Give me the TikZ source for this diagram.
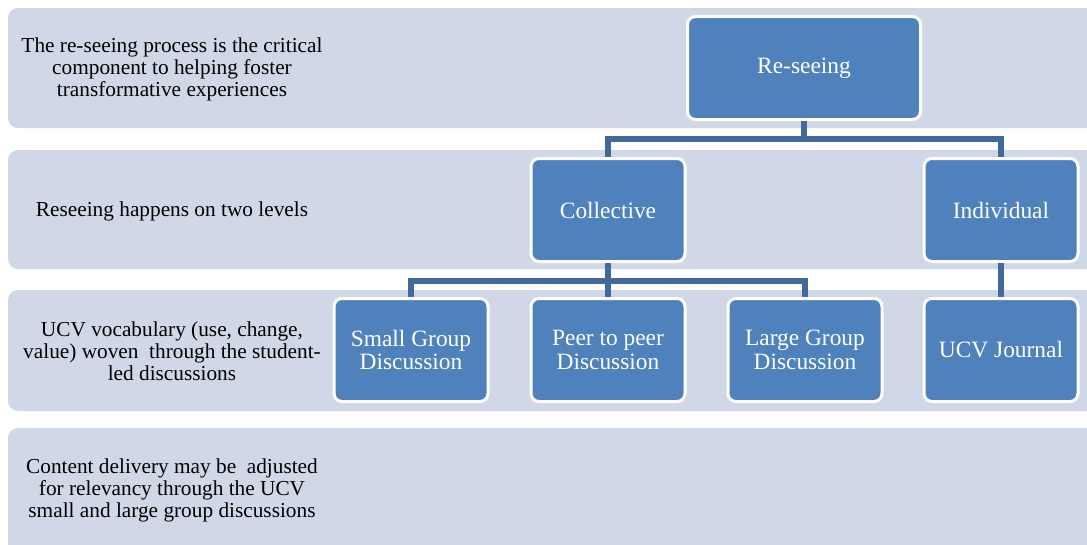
\documentclass[tikz,border=0pt]{standalone}
\usepackage{fontspec}
\setmainfont{Liberation Serif}
\definecolor{bandfill}{HTML}{D0D8E8}
\definecolor{boxfill}{HTML}{4F81BD}
\definecolor{connblue}{HTML}{41699D}
\begin{document}
\begin{tikzpicture}[x=1pt,y=-1pt,
  bandshape/.style={fill=bandfill, rounded corners=10pt},
  bandtext/.style={align=center, font=\fontsize{21.3}{22}\selectfont, text=black, inner sep=0pt},
  boxnode/.style={fill=boxfill, draw=white, line width=3pt, rounded corners=8pt, text=white,
    align=center, font=\fontsize{23.4}{23.5}\selectfont, minimum height=103pt, inner sep=0pt},
  smallbox/.style={boxnode, minimum width=154pt},
  connline/.style={draw=connblue, line width=5.5pt}]
\useasboundingbox (0,0) rectangle (1087,544);
\clip (0,0) rectangle (1087,544);
% bands
\fill[bandshape] (8,8) rectangle (1110,128);
\fill[bandshape] (8,150) rectangle (1110,269);
\fill[bandshape] (8,290) rectangle (1110,411);
\fill[bandshape] (8,428) rectangle (1110,570);
% band texts
\node[bandtext] (t1) at (172,69) {The re-seeing process is the critical\\component to helping foster\\transformative experiences};
\node[bandtext] (t2) at (172,211) {Reseeing happens on two levels};
\node[bandtext] (t3) at (172,351) {UCV vocabulary (use, change,\\value) woven\ \ through the student-\\led discussions};
\node[bandtext] (t4) at (172,490) {Content delivery may be\ \ adjusted\\for relevancy through the UCV\\small and large group discussions};
% boxes
\node[boxnode, minimum width=233pt] (re) at (804,68) {Re-seeing};
\node[smallbox] (col) at (608,210) {Collective};
\node[smallbox] (ind) at (1001,210) {Individual};
\node[smallbox] (sg) at (411,350) {Small Group\\Discussion};
\node[smallbox] (pp) at (608,350) {Peer to peer\\Discussion};
\node[smallbox] (lg) at (805,350) {Large Group\\Discussion};
\node[smallbox] (uj) at (1001,350) {UCV Journal};
% connectors
\coordinate (h1) at (804,139);
\coordinate (h2) at (608,281);
\draw[connline] (re.south) -- (h1);
\draw[connline] (h1) -| (col.north);
\draw[connline] (h1) -| (ind.north);
\draw[connline] (col.south) -- (h2);
\draw[connline] (h2) -| (sg.north);
\draw[connline] (h2) -| (lg.north);
\draw[connline] (h2) -- (pp.north);
\draw[connline] (ind.south) -- (uj.north);
\end{tikzpicture}
\end{document}
